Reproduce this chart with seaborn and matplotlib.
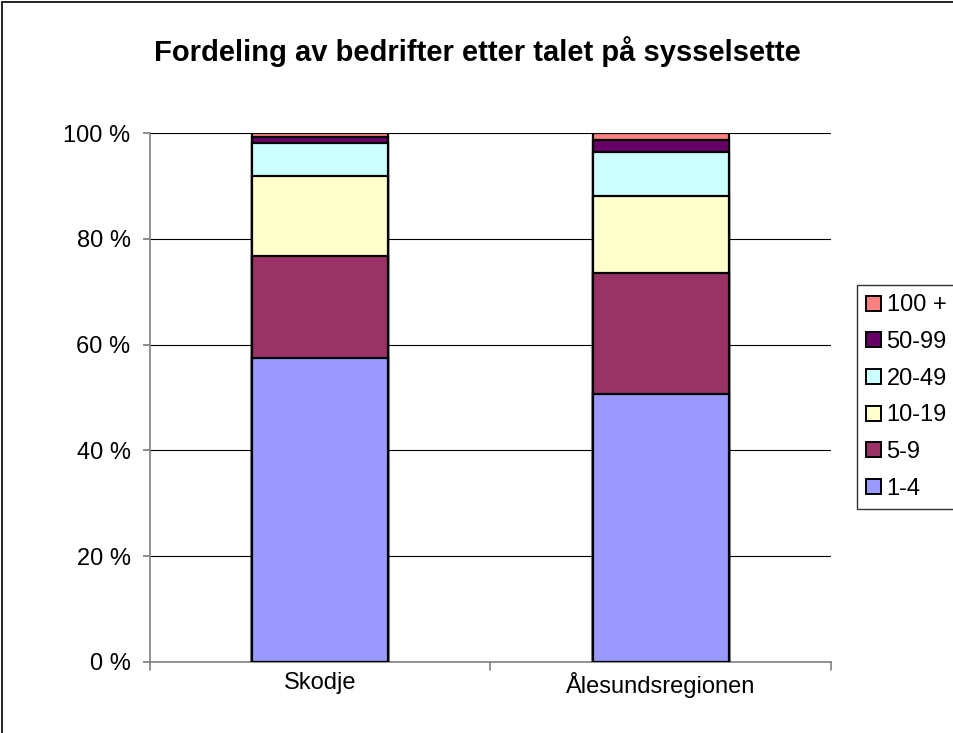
import pandas as pd
import matplotlib
matplotlib.use("Agg")
import matplotlib.pyplot as plt
import seaborn as sns
from matplotlib.patches import Patch
from matplotlib.lines import Line2D

# data (per cent of firms by number of employees)
places = ["Skodje", "Ålesundsregionen"]
groups = ["1-4", "5-9", "10-19", "20-49", "50-99", "100 +"]
skodje = [57.5, 19.3, 15.0, 6.3, 1.1, 0.8]
aalesund = [50.7, 22.8, 14.6, 8.3, 2.3, 1.3]
colors = ["#9999FF", "#993366", "#FFFFCC", "#CCFFFF", "#660066", "#FF8080"]

sns.set_theme(style="white")
plt.rcParams["font.family"] = ["Liberation Sans", "DejaVu Sans"]
plt.rcParams["text.color"] = "black"
plt.rcParams["xtick.color"] = "black"
plt.rcParams["ytick.color"] = "black"

df = pd.DataFrame({"place": places * len(groups),
                   "group": [g for g in groups for _ in places],
                   "val": [v for pair in zip(skodje, aalesund) for v in pair]})
df["cum"] = df.groupby("place")["val"].cumsum()

fig = plt.figure(figsize=(9.54, 7.33), dpi=100)
ax = fig.add_axes([150 / 954, 71 / 733, 681 / 954, 529 / 733])

# stacked bars: draw cumulative totals from top down
for g, c in reversed(list(zip(groups, colors))):
    sub = df[df["group"] == g]
    sns.barplot(data=sub, x="place", y="cum", order=places, color=c,
                width=0.4, edgecolor="black", linewidth=1.6, saturation=1,
                ax=ax, zorder=3)

ax.set_ylim(0, 100)
ax.set_xlim(-0.5, 1.5)
ax.set_yticks(range(0, 101, 20))
ax.set_yticklabels([f"{v} %" for v in range(0, 101, 20)], fontsize=17)
ax.set_xticks([0, 1])
ax.set_xticklabels(places, fontsize=17)
ax.set_xlabel("")
ax.set_ylabel("")
ax.yaxis.grid(True, color="black", linewidth=0.8, zorder=0)
ax.set_axisbelow(True)
for s in ["left", "bottom", "right", "top"]:
    ax.spines[s].set_color("#808080")
    ax.spines[s].set_linewidth(1.2)
ax.spines["top"].set_visible(False)
ax.spines["right"].set_visible(False)
ax.tick_params(axis="y", left=True, length=5, color="#808080", pad=9)
ax.tick_params(axis="x", bottom=False, pad=1)
# category separator ticks
for xv in [-0.5, 0.5, 1.5]:
    ax.plot([xv, xv], [0, -1.5], color="#808080", lw=1.2, clip_on=False)

fig.text(0.5, 1 - 52 / 733, "Fordeling av bedrifter etter talet på sysselsette",
         ha="center", va="center", fontsize=21, fontweight="bold", color="black")

handles = [Patch(facecolor=c, edgecolor="black", linewidth=1.4, label=g)
           for g, c in reversed(list(zip(groups, colors)))]
leg = fig.legend(handles=handles, loc="upper left",
                 bbox_to_anchor=(857 / 954, 1 - 285 / 733), fontsize=17,
                 frameon=True, fancybox=False, handlelength=0.6,
                 handleheight=0.6, handletextpad=0.25, labelspacing=0.62,
                 borderpad=0.4, borderaxespad=0)
leg.get_frame().set_edgecolor("black")
leg.get_frame().set_linewidth(1)

# outer chart frame
fig.add_artist(Line2D([0.002, 0.002], [0, 0.997], color="black", lw=1.2))
fig.add_artist(Line2D([0.002, 1], [0.997, 0.997], color="black", lw=1.2))

fig.savefig("out.png", dpi=100)
